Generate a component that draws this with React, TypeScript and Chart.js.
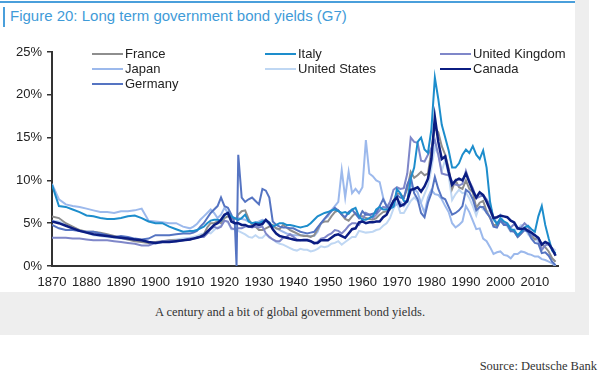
import React, { useEffect, useRef } from "react";
import { Chart, registerables } from "chart.js";

Chart.register(...registerables);

const years = [
  1870, 1872, 1874, 1876, 1878, 1880, 1882, 1884, 1886, 1888, 1890, 1892, 1894, 1896, 1898, 1900, 1902, 1904, 1906, 1908, 1910,
  1911, 1912, 1913, 1914, 1915, 1916, 1917, 1918, 1919, 1920, 1921, 1922,
  1923, 1923.5,
  1924, 1925, 1926, 1927, 1928, 1929, 1930, 1931, 1932, 1933, 1934, 1935, 1936, 1937, 1938, 1939,
  1940, 1941, 1942, 1943, 1944, 1945, 1946, 1947, 1948, 1949, 1950, 1951, 1952, 1953, 1954, 1955, 1956, 1957, 1958, 1959,
  1960, 1961, 1962, 1963, 1964, 1965, 1966, 1967, 1968, 1969, 1970, 1971, 1972, 1973, 1974, 1975, 1976, 1977, 1978, 1979,
  1980, 1981, 1982, 1983, 1984, 1985, 1986, 1987, 1988, 1989, 1990, 1991, 1992, 1993, 1994, 1995, 1996, 1997, 1998, 1999,
  2000, 2001, 2002, 2003, 2004, 2005, 2006, 2007, 2008, 2009, 2010, 2011, 2012, 2013, 2014, 2015, 2016,
];

const france = [
  5.8, 5.6, 5.0, 4.6, 4.2, 4.0, 4.0, 3.9, 3.7, 3.5, 3.3, 3.1, 2.9, 2.8, 2.7, 2.8, 2.9, 3.0, 3.0, 3.0, 3.1,
  3.2, 3.3, 3.5, 3.7, 4.5, 5.0, 5.0, 5.2, 5.0, 5.6, 5.8, 5.6,
  5.5, 5.6,
  6.0, 6.4, 6.5, 5.5, 4.8, 4.6, 4.2, 4.2, 4.4, 4.6, 4.8, 4.4, 4.3, 4.8, 4.5, 4.2,
  4.0, 3.8, 3.6, 3.5, 3.5, 3.4, 3.6, 4.3, 5.0, 5.2, 5.2, 5.8, 6.3, 6.5, 6.0, 5.5, 5.3, 5.8, 6.2, 5.8,
  5.8, 5.6, 5.5, 5.4, 5.6, 6.0, 6.3, 6.4, 6.6, 7.6, 8.5, 8.4, 8.0, 9.0, 11.0, 10.3, 10.6, 11.0, 10.6, 10.8,
  13.6, 16.2, 15.6, 14.0, 13.0, 11.4, 9.0, 10.0, 9.2, 9.0, 10.0, 9.0, 8.6, 6.8, 7.4, 7.6, 6.4, 5.6, 4.8, 4.8,
  5.4, 5.0, 4.9, 4.1, 4.1, 3.4, 3.8, 4.3, 4.2, 3.6, 3.1, 3.3, 2.5, 2.2, 1.7, 0.9, 0.5,
];

const italy = [
  9.5, 7.0, 6.9, 6.6, 6.3, 5.9, 5.8, 5.6, 5.5, 5.5, 5.6, 5.8, 5.9, 5.6, 5.2, 5.0, 5.0, 4.6, 4.3, 4.0, 4.1,
  4.1, 4.2, 4.4, 4.6, 5.0, 5.3, 5.4, 5.4, 5.3, 5.9, 6.2, 5.8,
  5.6, 5.5,
  5.4, 5.6, 6.0, 5.2, 5.0, 5.1, 5.0, 5.2, 5.3, 5.1, 4.6, 4.8, 5.0, 5.0, 4.8, 4.8,
  4.7, 4.6, 4.5, 4.6, 4.7, 5.0, 5.4, 5.8, 6.0, 6.2, 6.3, 6.5, 6.6, 6.4, 6.2, 6.3, 6.1, 6.6, 6.8, 5.8,
  5.4, 5.4, 5.6, 5.8, 6.6, 6.9, 6.6, 6.6, 6.7, 6.9, 9.0, 8.5, 7.6, 7.5, 10.2, 11.5, 14.5, 15.0, 13.6, 13.2,
  16.0, 22.0, 19.5, 16.5, 15.0, 13.5, 11.5, 11.5, 12.0, 13.0, 13.6, 13.2, 14.0, 13.0, 12.5, 13.5, 11.5, 7.5, 5.5, 4.9,
  5.6, 5.2, 5.0, 4.3, 4.2, 3.6, 4.0, 4.5, 4.7, 4.3, 4.0, 5.8, 7.0, 4.8, 3.2, 1.8, 1.5,
];

const unitedKingdom = [
  3.3, 3.3, 3.3, 3.2, 3.2, 3.1, 3.0, 3.0, 3.0, 2.9, 2.8, 2.7, 2.6, 2.4, 2.4, 2.7, 2.9, 2.9, 2.9, 3.0, 3.2,
  3.2, 3.3, 3.4, 3.4, 3.8, 4.3, 4.6, 4.4, 4.6, 5.3, 5.2, 4.4,
  4.3, 4.3,
  4.4, 4.4, 4.6, 4.6, 4.5, 4.6, 4.5, 4.6, 3.8, 3.4, 3.1, 2.9, 2.9, 3.3, 3.4, 3.7,
  3.4, 3.1, 3.0, 3.1, 3.1, 2.9, 2.6, 2.8, 3.2, 3.3, 3.6, 3.8, 4.2, 4.1, 3.8, 4.2, 4.7, 5.0, 5.0, 4.8,
  5.4, 6.2, 6.0, 5.6, 6.0, 6.5, 6.9, 6.8, 7.5, 8.9, 9.2, 9.0, 9.1, 10.8, 15.0, 14.5, 14.4, 12.3, 12.2, 13.0,
  13.8, 14.7, 13.0, 10.8, 10.7, 10.6, 9.9, 9.5, 9.4, 9.6, 11.1, 9.9, 9.1, 7.9, 8.1, 8.3, 7.8, 7.1, 5.6, 5.0,
  5.3, 4.9, 4.9, 4.5, 4.9, 4.4, 4.5, 5.0, 4.6, 3.6, 3.6, 3.1, 1.9, 2.4, 2.6, 1.9, 1.3,
];

const japan = [
  9.6, 7.8, 7.2, 7.0, 6.9, 6.7, 6.5, 6.3, 6.3, 6.2, 6.4, 6.4, 6.5, 6.7, 5.3, 5.2, 5.1, 5.0, 5.0, 4.6, 4.4,
  4.6, 4.9, 5.4, 5.8, 6.2, 6.6, 6.2, 5.6, 6.0, 6.8, 6.2, 5.6,
  5.5, 5.5,
  5.6, 5.5, 5.4, 5.2, 5.0, 5.0, 5.2, 5.4, 5.3, 4.8, 4.6, 4.4, 4.2, 4.0, 3.8, 3.7,
  3.6, 3.6, 3.6, 3.6, 3.5, 3.5, 3.5, 4.0, 5.0, 5.5, 5.8, 6.5, 7.0, 7.5, 11.2, 8.0, 11.0, 8.5, 9.0, 8.5,
  9.2, 14.7, 10.8, 10.5, 10.0, 9.8, 8.0, 7.0, 7.2, 7.0, 7.2, 7.5, 7.0, 7.5, 9.5, 9.0, 8.6, 7.3, 6.2, 8.0,
  8.9, 8.4, 8.3, 7.8, 7.0, 6.3, 5.0, 4.5, 4.8, 5.2, 7.0, 6.3, 5.3, 4.3, 4.4, 3.2, 2.9, 2.2, 1.4, 1.6,
  1.7, 1.3, 1.2, 0.9, 1.4, 1.4, 1.7, 1.6, 1.4, 1.3, 1.1, 1.1, 0.8, 0.7, 0.5, 0.3, 0.0,
];

const unitedStates = [
  5.3, 5.2, 4.9, 4.5, 4.2, 3.9, 3.6, 3.5, 3.4, 3.3, 3.2, 3.1, 3.0, 3.0, 2.8, 2.6, 2.8, 3.0, 3.1, 3.2, 3.3,
  3.4, 3.5, 3.7, 3.8, 3.9, 3.8, 4.2, 4.5, 4.7, 5.3, 5.1, 4.3,
  4.3, 4.3,
  4.1, 3.9, 3.7, 3.4, 3.3, 3.6, 3.3, 3.3, 3.7, 3.3, 3.1, 2.8, 2.6, 2.5, 2.3, 2.1,
  1.9, 1.8, 2.0, 1.9, 1.9, 1.7, 1.8, 2.0, 2.3, 2.2, 2.3, 2.6, 2.7, 2.9, 2.5, 2.8, 3.1, 3.4, 3.4, 4.1,
  4.0, 3.9, 3.95, 4.0, 4.2, 4.3, 4.7, 5.0, 5.6, 6.7, 7.4, 6.2, 6.2, 6.9, 7.6, 8.0, 7.6, 7.4, 8.4, 9.4,
  11.4, 13.9, 13.0, 11.1, 12.4, 10.6, 7.7, 8.4, 8.9, 8.5, 8.6, 7.9, 7.0, 5.9, 7.1, 6.6, 6.4, 6.4, 5.3, 5.6,
  6.0, 5.0, 4.6, 4.0, 4.3, 4.3, 4.8, 4.6, 3.7, 3.3, 3.2, 2.8, 1.8, 2.4, 2.5, 2.1, 1.8,
];

const germany = [
  4.8, 4.4, 4.2, 4.2, 4.1, 4.0, 4.0, 3.8, 3.6, 3.4, 3.5, 3.4, 3.2, 3.1, 3.2, 3.6, 3.6, 3.6, 3.7, 3.8, 3.8,
  3.9, 4.1, 4.6, 5.0, 5.6, 6.2, 6.6, 7.0, 8.0, 7.0, 6.8, 6.0,
  5.0, 0.0,
  13.0, 8.0, 7.5, 7.8, 8.0, 7.6, 7.2, 9.0, 8.8, 8.0, 5.2, 4.8, 4.6, 4.5, 4.5, 4.4,
  4.4, 4.2, 4.0, 3.9, 3.8, 3.9, 4.0, 4.5, 5.0, 5.5, 6.0, 6.4, 6.8, 6.5, 6.0, 5.7, 6.3, 6.6, 6.1, 5.6,
  6.4, 6.0, 6.0, 6.1, 6.2, 7.0, 7.8, 7.0, 6.7, 7.0, 8.3, 8.0, 7.9, 9.5, 10.4, 8.5, 7.8, 6.2, 5.7, 7.4,
  8.5, 10.4, 9.0, 8.0, 7.8, 6.9, 6.0, 6.2, 6.5, 7.0, 8.9, 8.6, 7.8, 6.5, 6.9, 6.9, 6.2, 5.7, 4.6, 4.5,
  5.3, 4.8, 4.8, 4.1, 4.0, 3.4, 3.8, 4.2, 4.0, 3.2, 2.7, 2.6, 1.5, 1.6, 1.2, 0.5, 0.1,
];

const canada = [
  5.2, 5.0, 4.7, 4.4, 4.1, 3.9, 3.7, 3.6, 3.5, 3.4, 3.3, 3.2, 3.1, 3.0, 2.8, 2.7, 2.8, 2.8, 2.9, 3.0, 3.1,
  3.2, 3.3, 3.4, 3.6, 4.0, 4.4, 4.8, 5.0, 5.4, 6.0, 6.2, 5.2,
  5.0, 5.0,
  5.0, 4.8, 4.8, 4.6, 4.6, 4.9, 4.8, 4.9, 5.4, 5.0, 4.3, 3.8, 3.5, 3.4, 3.3, 3.2,
  3.1, 3.0, 3.0, 3.0, 3.0, 2.9, 2.7, 2.7, 3.0, 3.0, 3.0, 3.3, 3.6, 3.7, 3.5, 3.3, 3.8, 4.3, 4.4, 5.1,
  5.2, 5.0, 5.1, 5.1, 5.2, 5.2, 5.7, 6.0, 6.8, 7.6, 8.0, 7.0, 7.2, 7.6, 8.9, 9.0, 9.2, 8.7, 9.3, 10.2,
  12.5, 17.4, 14.5, 12.5, 12.8, 11.0, 9.5, 10.0, 10.2, 10.0, 10.8, 9.8, 8.8, 8.0, 8.6, 8.3, 7.5, 6.6, 5.6, 5.7,
  5.9, 5.8, 5.7, 5.3, 5.1, 4.4, 4.3, 4.4, 4.1, 3.9, 3.6, 3.3, 2.5, 2.8, 2.6, 2.0, 1.2,
];

const yTicks = [0, 5, 10, 15, 20, 25];
const xTickLabels = ["1870", "1880", "1890", "1900", "1910", "1920", "1930", "1940", "1950", "1960", "1970", "1980", "1990", "2000", "2010"];

const seriesNames = ["France", "Italy", "United Kingdom", "Japan", "United States", "Canada", "Germany"];
const seriesValues = [france, italy, unitedKingdom, japan, unitedStates, canada, germany];
const seriesColors = ["#8e8e8e", "#1d8dcc", "#7f87c9", "#9cb9ec", "#bfd7f3", "#0b1d82", "#5574c2"];
const seriesWidths = [2, 2, 2, 2, 2, 2.5, 2];
const seriesOrder = [4, 1, 3, 5, 6, 0, 2];

// legend slots: [left of swatch, row]
const legendSlots = [
  [92, 0], [265, 0], [440, 0],
  [92, 1], [265, 1], [440, 1],
  [92, 2],
];

const FONT = "'Liberation Sans', Arial, sans-serif";

export default function App() {
  const canvasRef = useRef<HTMLCanvasElement | null>(null);

  useEffect(() => {
    document.body.style.margin = "0";
    const canvas = canvasRef.current;
    if (!canvas) return;
    const datasets = seriesNames.map((name, i) => ({
      label: name,
      data: years.map((yr, j) => ({ x: yr, y: seriesValues[i][j] })),
      borderColor: seriesColors[i],
      backgroundColor: seriesColors[i],
      borderWidth: seriesWidths[i],
      pointRadius: 0,
      tension: 0,
      order: seriesOrder[i],
      fill: false,
    }));
    const chart = new Chart(canvas, {
      type: "line",
      data: { datasets },
      options: {
        responsive: false,
        animation: false,
        devicePixelRatio: 1,
        layout: { padding: { top: 52, right: 17, left: 0, bottom: 0 } },
        plugins: { legend: { display: false }, tooltip: { enabled: false }, title: { display: false } },
        scales: {
          x: {
            type: "linear",
            min: 1870,
            max: 2016.7,
            afterFit: (s: any) => { s.height = 26; },
            afterBuildTicks: (s: any) => {
              s.ticks = xTickLabels.map((t) => ({ value: Number(t) }));
            },
            ticks: {
              includeBounds: false,
              autoSkip: false,
              maxRotation: 0,
              padding: 9,
              color: "#222",
              font: { family: FONT, size: 13 },
              callback: (v: any) => {
                const s = String(v);
                return xTickLabels.includes(s) ? s : "";
              },
            },
            grid: { display: false, drawTicks: false },
            border: { display: true, color: "#333", width: 2 },
          },
          y: {
            min: 0,
            max: 25,
            afterFit: (s: any) => { s.width = 52; },
            afterBuildTicks: (s: any) => {
              s.ticks = yTicks.map((t) => ({ value: t }));
            },
            ticks: {
              padding: 5,
              color: "#222",
              font: { family: FONT, size: 13 },
              callback: (v: any) => v + "%",
            },
            grid: { drawOnChartArea: false, drawTicks: true, tickLength: 5, color: "#333", lineWidth: 1.5 },
            border: { display: true, color: "#333", width: 2 },
          },
        },
      },
    });
    return () => chart.destroy();
  }, []);

  return (
    <div style={{ position: "relative", width: 600, height: 376, background: "#fff", overflow: "hidden", fontFamily: FONT }}>
      <div style={{ position: "absolute", left: 0, top: 0, width: 589, height: 335, background: "#eeeeee" }} />
      <div style={{ position: "absolute", left: 0, top: 0, width: 575, height: 292, background: "#ffffff" }} />
      <div style={{ position: "absolute", left: 0, top: 1, width: 575, height: 2, background: "#4a9fdb" }} />
      <div style={{ position: "absolute", left: 3, top: 7, width: 2, height: 20, background: "#4a9fdb" }} />
      <div style={{ position: "absolute", left: 10, top: 7, fontSize: 15, lineHeight: "18px", color: "#3f9bd8", whiteSpace: "nowrap" }}>
        Figure 20: Long term government bond yields (G7)
      </div>
      <canvas ref={canvasRef} width={575} height={292} style={{ position: "absolute", left: 0, top: 0, width: 575, height: 292 }} />
      {seriesNames.map((name, i) => {
        const [lx, row] = legendSlots[i];
        const cy = 54 + row * 15;
        return (
          <div key={name} style={{ position: "absolute", left: lx, top: cy - 8, height: 16, display: "flex", alignItems: "center", whiteSpace: "nowrap" }}>
            <div style={{ width: 31, height: 2, background: seriesColors[i] }} />
            <span style={{ marginLeft: 2, fontSize: 13, color: "#222", lineHeight: "16px" }}>{name}</span>
          </div>
        );
      })}
      <div style={{ position: "absolute", left: 0, top: 305, width: 580, textAlign: "center", fontFamily: "'Liberation Serif', 'Times New Roman', serif", fontSize: 12.5, color: "#333" }}>
        A century and a bit of global government bond yields.
      </div>
      <div style={{ position: "absolute", right: 3, top: 359, fontFamily: "'Liberation Serif', 'Times New Roman', serif", fontSize: 12.5, color: "#333", whiteSpace: "nowrap" }}>
        Source: Deutsche Bank
      </div>
    </div>
  );
}
